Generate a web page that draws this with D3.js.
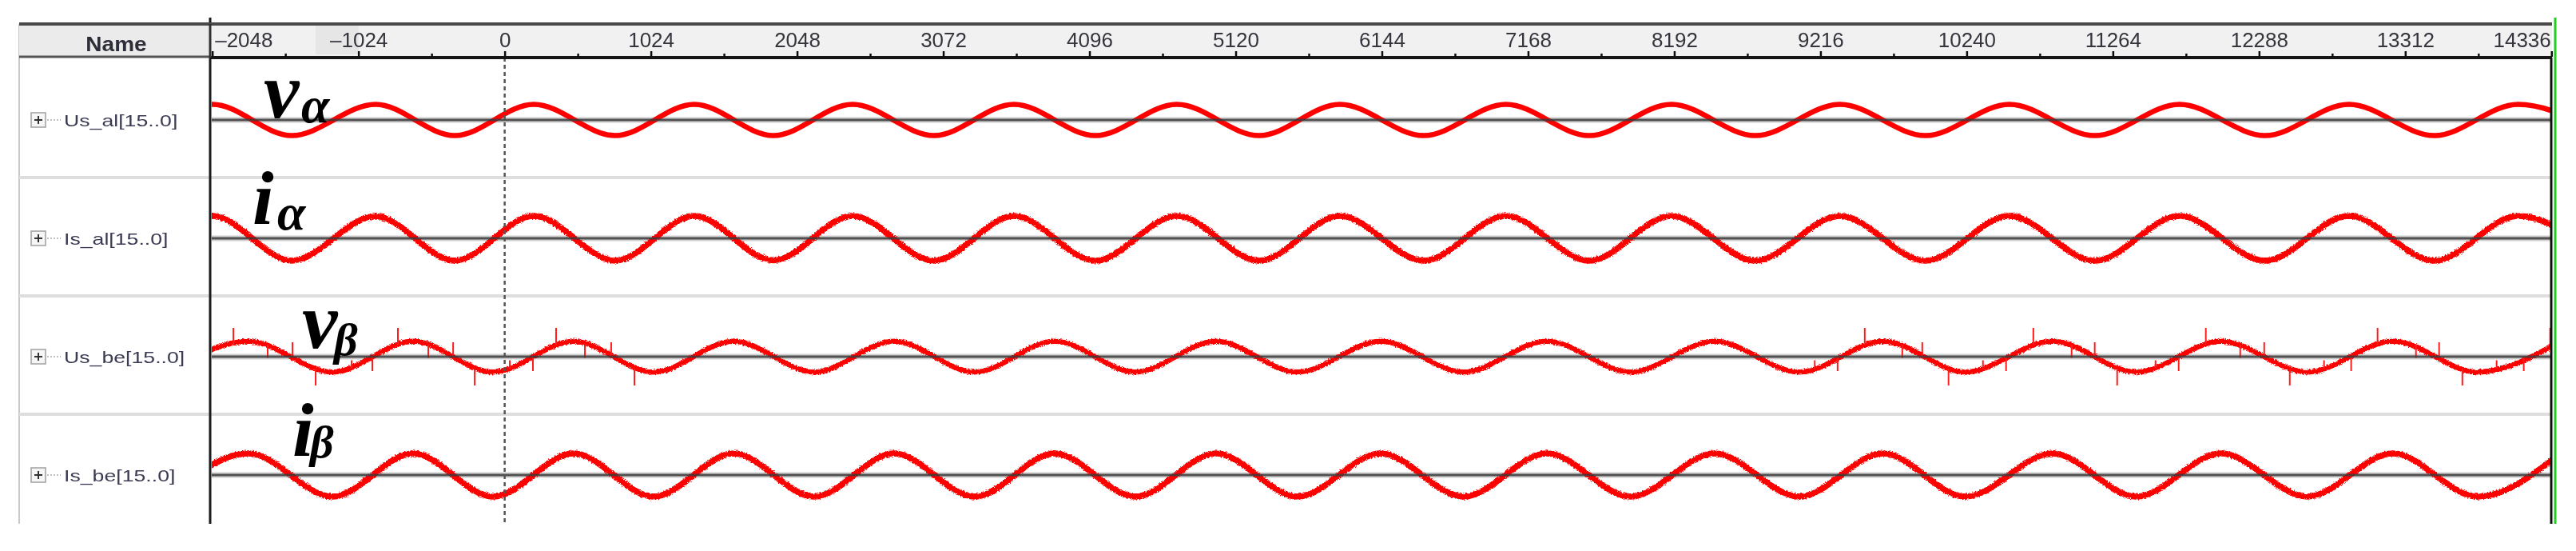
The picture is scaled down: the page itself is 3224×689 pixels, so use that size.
<!DOCTYPE html>
<html>
<head>
<meta charset="utf-8">
<script src="https://cdn.jsdelivr.net/npm/d3@7/dist/d3.min.js"></script>
<style>
html, body { margin: 0; padding: 0; background: #fff; }
svg { display: block; }
</style>
</head>
<body>
<div id="chart"></div>
<script>
const width = 3224;
const height = 689;

// signals listed in the Name column
const rowNames = ["Us_al[15..0]", "Is_al[15..0]", "Us_be[15..0]", "Is_be[15..0]"];
const rowSymbols = [["v", "α"], ["i", "α"], ["v", "β"], ["i", "β"]];

// time ruler
const majorTicks = [-2048, -1024, 0, 1024, 2048, 3072, 4096, 5120, 6144, 7168, 8192,
    9216, 10240, 11264, 12288, 13312, 14336];
const minorTicks = [-1536, -512, 512, 1536, 2560, 3584, 4608, 5632, 6656, 7680, 8704,
    9728, 10752, 11776, 12800, 13824];

// extrema of the alpha signals (time), trough first
const alphaTimes = [-2622, -2046, -1492, -904, -350, 204, 774, 1328, 1882, 2436, 3007,
    3567, 4137, 4708, 5284, 5850, 6437, 7013, 7596, 8172, 8759, 9352, 9951, 10539,
    11137, 11731, 12330, 12917, 13516, 14103, 14696];
const usAlpha = [-0.65, 0.65, -0.65, 0.65, -0.65, 0.65, -0.65, 0.65, -0.65, 0.65, -0.65,
    0.65, -0.65, 0.65, -0.65, 0.65, -0.65, 0.65, -0.65, 0.65, -0.65, 0.65, -0.65, 0.65,
    -0.65, 0.65, -0.65, 0.65, -0.65, 0.65, -0.65];
const isAlpha = [-0.93, 0.93, -0.93, 0.92, -0.93, 0.93, -0.93, 0.93, -0.92, 0.93, -0.93,
    0.93, -0.93, 0.93, -0.93, 0.93, -0.93, 0.93, -0.93, 0.93, -0.93, 0.93, -0.93, 0.93,
    -0.93, 0.93, -0.93, 0.93, -0.93, 0.93, -0.93];

// extrema of the beta signals, trough first
const betaTimes = [-2359, -1794, -1206, -641, -82, 483, 1043, 1603, 2168, 2727, 3292,
    3852, 4417, 4982, 5553, 6135, 6717, 7299, 7886, 8474, 9067, 9655, 10231, 10841,
    11428, 12022, 12626, 13225, 13818, 14400];
const usBeta = [-0.64, 0.64, -0.64, 0.64, -0.64, 0.64, -0.64, 0.64, -0.64, 0.64, -0.64,
    0.64, -0.64, 0.64, -0.64, 0.64, -0.64, 0.64, -0.64, 0.64, -0.64, 0.64, -0.64, 0.64,
    -0.64, 0.64, -0.64, 0.64, -0.64, 0.64];
const isBeta = [-0.9, 0.9, -0.9, 0.9, -0.9, 0.9, -0.9, 0.9, -0.9, 0.9, -0.9,
    0.9, -0.9, 0.9, -0.9, 0.9, -0.9, 0.9, -0.9, 0.9, -0.9, 0.9, -0.9, 0.9,
    -0.9, 0.9, -0.9, 0.9, -0.9, 0.9];

// glitches on Us_be: time, low end, high end
const spikeTimes = [-1900, -1660, -1486, -1324, -1072, -927, -748, -535, -361, -210, 36, 198,
    360, 562, 746, 909,
    9176, 9336, 9526, 9789, 9929, 10113, 10354, 10516, 10707, 10975, 11137, 11294, 11563,
    11725, 11915, 12156, 12324, 12503, 12743, 12933, 13118, 13387, 13549, 13712, 13952,
    14142, 14327];
const spikeLow = [0.5, -0.05, -0.05, -1.2, -0.5, -0.6, 0.5, -0.05, -0.05, -1.2, -0.5, -0.6,
    0.5, -0.05, -0.05, -1.2,
    -0.5, -0.6, 0.5, -0.05, -0.05, -1.2, -0.5, -0.6, 0.5, -0.05, -0.05, -1.2, -0.5,
    -0.6, 0.5, -0.05, -0.05, -1.2, -0.5, -0.6, 0.5, -0.05, -0.05, -1.2, -0.5,
    -0.6, 0.5];
const spikeHigh = [1.2, 0.5, 0.6, -0.5, -0.15, 0.0, 1.2, 0.5, 0.6, -0.5, -0.15, 0.0,
    1.2, 0.5, 0.6, -0.5,
    -0.15, 0.0, 1.2, 0.5, 0.6, -0.5, -0.15, 0.0, 1.2, 0.5, 0.6, -0.5, -0.15,
    0.0, 1.2, 0.5, 0.6, -0.5, -0.15, 0.0, 1.2, 0.5, 0.6, -0.5, -0.15,
    0.0, 1.2];

const seriesTimes = [alphaTimes, alphaTimes, betaTimes, betaTimes];
const seriesValues = [usAlpha, isAlpha, usBeta, isBeta];

// layout of the waveform window
const L = {
    nameLeft: 24, plotLeft: 263, plotRight: 3194,
    headerTop: 30, headerBottom: 72,
    rowTop: 78, rowH: 148, plotBottom: 655, halfAmp: 30
};
// where the big math symbols sit (main letter, subscript)
const symbolPos = [
    { x: 330, y: 147, sx: 377, sy: 153 },
    { x: 316, y: 280, sx: 347, sy: 287 },
    { x: 378, y: 435, sx: 418, sy: 444 },
    { x: 366, y: 570, sx: 388, sy: 572 }
];

const x = d3.scaleLinear().domain([-2063, 14340]).range([L.plotLeft, L.plotRight]);

const svg = d3.select("#chart").append("svg")
    .attr("width", width)
    .attr("height", height);

const defs = svg.append("defs");
defs.append("clipPath").attr("id", "plotClip")
    .append("rect")
    .attr("x", L.plotLeft + 2).attr("y", L.headerBottom + 2)
    .attr("width", L.plotRight - L.plotLeft - 3)
    .attr("height", L.plotBottom - L.headerBottom - 2);

// slightly ragged edge for the noisy signals
const fuzz = defs.append("filter").attr("id", "fuzz")
    .attr("filterUnits", "userSpaceOnUse")
    .attr("x", 0).attr("y", 0).attr("width", width).attr("height", height);
fuzz.append("feTurbulence")
    .attr("type", "fractalNoise").attr("baseFrequency", "0.5 0.8")
    .attr("numOctaves", 1).attr("seed", 4).attr("result", "noise");
fuzz.append("feDisplacementMap")
    .attr("in", "SourceGraphic").attr("in2", "noise")
    .attr("scale", 5).attr("xChannelSelector", "R").attr("yChannelSelector", "G");

const soft = defs.append("filter").attr("id", "soft");
soft.append("feGaussianBlur").attr("stdDeviation", 0.6);

const g = svg.append("g").attr("filter", "url(#soft)");

// name column border and row separators
g.append("line")
    .attr("x1", L.nameLeft).attr("x2", L.nameLeft)
    .attr("y1", L.headerTop).attr("y2", L.plotBottom)
    .attr("stroke", "#c8c8c8").attr("stroke-width", 2);

for (let i = 1; i < rowNames.length; i++) {
    const yy = L.rowTop + L.rowH * i - 4;
    g.append("line")
        .attr("x1", L.nameLeft).attr("x2", L.plotRight)
        .attr("y1", yy).attr("y2", yy)
        .attr("stroke", "#dedede").attr("stroke-width", 4);
}

const line = d3.line()
    .x(d => x(d[0]))
    .curve(d3.curveMonotoneX);

const plot = g.append("g").attr("clip-path", "url(#plotClip)");

rowNames.forEach((name, i) => {
    const base = L.rowTop + L.rowH * i + L.rowH / 2 - 2;
    const y = d3.scaleLinear().domain([-1, 1]).range([base + L.halfAmp, base - L.halfAmp]);
    const pts = seriesTimes[i].map((t, k) => [t, seriesValues[i][k]]);

    // light halo of the zero line
    plot.append("line")
        .attr("x1", L.plotLeft).attr("x2", L.plotRight)
        .attr("y1", base).attr("y2", base)
        .attr("stroke", "#cfcfcf").attr("stroke-width", 7);

    const noisy = i !== 0;
    plot.append("path")
        .datum(pts)
        .attr("fill", "none")
        .attr("stroke", "#ff0000")
        .attr("stroke-width", i % 2 === 1 ? 7.5 : 6.5)
        .attr("stroke-linejoin", "round")
        .attr("filter", noisy ? "url(#fuzz)" : null)
        .attr("d", line.y(d => y(d[1])));

    if (i === 2) {
        plot.selectAll(".spike")
            .data(spikeTimes.map((t, k) => [t, spikeLow[k], spikeHigh[k]]))
            .enter().append("line")
            .attr("class", "spike")
            .attr("x1", d => x(d[0])).attr("x2", d => x(d[0]))
            .attr("y1", d => y(d[1])).attr("y2", d => y(d[2]))
            .attr("stroke", "#ff1a1a").attr("stroke-width", 2);
    }

    // zero line drawn over the trace
    plot.append("line")
        .attr("x1", L.plotLeft).attr("x2", L.plotRight)
        .attr("y1", base).attr("y2", base)
        .attr("stroke", "#3c3c3c").attr("stroke-width", 2.8).attr("opacity", 0.85);

    // name cell: expand box, dotted stub, signal name
    const cell = g.append("g");
    cell.append("rect")
        .attr("x", 39).attr("y", base - 9).attr("width", 18).attr("height", 18)
        .attr("fill", "#f6f6f6").attr("stroke", "#a0a0a0").attr("stroke-width", 1.5);
    cell.append("line")
        .attr("x1", 43).attr("x2", 53).attr("y1", base).attr("y2", base)
        .attr("stroke", "#333").attr("stroke-width", 2);
    cell.append("line")
        .attr("x1", 48).attr("x2", 48).attr("y1", base - 5).attr("y2", base + 5)
        .attr("stroke", "#333").attr("stroke-width", 2);
    cell.append("line")
        .attr("x1", 59).attr("x2", 76).attr("y1", base).attr("y2", base)
        .attr("stroke", "#aaa").attr("stroke-width", 1.5).attr("stroke-dasharray", "2,2");
    const label = cell.append("text")
        .attr("x", 80).attr("y", base + 8)
        .attr("font-family", "'Liberation Sans', Arial, sans-serif")
        .attr("font-size", 21)
        .attr("fill", "#3a3a52")
        .text(name);
    const natural = label.node().getComputedTextLength();
    label.attr("textLength", natural * 1.27).attr("lengthAdjust", "spacingAndGlyphs");
});

// cursor at time 0
g.append("line")
    .attr("x1", x(0)).attr("x2", x(0))
    .attr("y1", L.headerBottom).attr("y2", L.plotBottom)
    .attr("stroke", "#555").attr("stroke-width", 2.5)
    .attr("stroke-dasharray", "5,4");

// plot borders
g.append("line")
    .attr("x1", L.plotLeft).attr("x2", L.plotLeft)
    .attr("y1", L.headerTop - 8).attr("y2", L.plotBottom)
    .attr("stroke", "#1a1a1a").attr("stroke-width", 3);
g.append("line")
    .attr("x1", L.plotRight - 1).attr("x2", L.plotRight - 1)
    .attr("y1", L.headerBottom).attr("y2", L.plotBottom)
    .attr("stroke", "#111").attr("stroke-width", 3);
g.append("line")
    .attr("x1", L.plotRight + 4).attr("x2", L.plotRight + 4)
    .attr("y1", L.headerTop - 8).attr("y2", L.plotBottom)
    .attr("stroke", "#22cc22").attr("stroke-width", 3);

// header band
g.append("rect")
    .attr("x", L.nameLeft).attr("y", L.headerTop)
    .attr("width", L.plotLeft - L.nameLeft).attr("height", L.headerBottom - L.headerTop)
    .attr("fill", "#ebebeb");
g.append("rect")
    .attr("x", L.plotLeft).attr("y", L.headerTop)
    .attr("width", L.plotRight - L.plotLeft).attr("height", L.headerBottom - L.headerTop)
    .attr("fill", "#f1f1f1");
g.append("rect")
    .attr("x", x(-1324)).attr("y", L.headerTop + 2)
    .attr("width", x(-1024) - x(-1324)).attr("height", L.headerBottom - L.headerTop - 6)
    .attr("fill", "#e6e6e6");
g.append("line")
    .attr("x1", L.nameLeft).attr("x2", L.plotRight)
    .attr("y1", L.headerTop).attr("y2", L.headerTop)
    .attr("stroke", "#4a4a4a").attr("stroke-width", 4);
g.append("line")
    .attr("x1", L.nameLeft).attr("x2", L.plotLeft)
    .attr("y1", L.headerBottom - 1).attr("y2", L.headerBottom - 1)
    .attr("stroke", "#555").attr("stroke-width", 3);
g.append("line")
    .attr("x1", L.plotLeft).attr("x2", L.plotRight)
    .attr("y1", L.headerBottom).attr("y2", L.headerBottom)
    .attr("stroke", "#151515").attr("stroke-width", 4);
g.append("line")
    .attr("x1", L.plotLeft).attr("x2", L.plotLeft)
    .attr("y1", L.headerTop).attr("y2", L.headerBottom)
    .attr("stroke", "#333").attr("stroke-width", 3);

const nameText = g.append("text")
    .attr("x", (L.nameLeft + L.plotLeft) / 2 + 2).attr("y", 64)
    .attr("text-anchor", "middle")
    .attr("font-family", "'Liberation Sans', Arial, sans-serif")
    .attr("font-weight", "bold").attr("font-size", 25)
    .attr("fill", "#2e2e3a")
    .text("Name");
nameText.attr("textLength", nameText.node().getComputedTextLength() * 1.12)
    .attr("lengthAdjust", "spacingAndGlyphs");

// ruler ticks
const minorAxis = g.append("g")
    .attr("transform", `translate(0,${L.headerBottom - 1})`)
    .call(d3.axisTop(x).tickValues(minorTicks).tickSize(4).tickFormat(""));
const majorAxis = g.append("g")
    .attr("transform", `translate(0,${L.headerBottom - 1})`)
    .call(d3.axisTop(x).tickValues(majorTicks).tickSize(7).tickPadding(5)
        .tickFormat(d => d < 0 ? "–" + Math.abs(d) : String(d)));
[minorAxis, majorAxis].forEach(a => {
    a.select(".domain").remove();
    a.selectAll(".tick line").attr("stroke", "#111").attr("stroke-width", 2.5);
});
majorAxis.selectAll(".tick text")
    .attr("font-family", "'Liberation Sans', Arial, sans-serif")
    .attr("font-size", 26)
    .attr("fill", "#34343c");
majorAxis.selectAll(".tick text")
    .filter(d => d === majorTicks[0])
    .attr("text-anchor", "start").attr("x", 3);
majorAxis.selectAll(".tick text")
    .filter(d => d === majorTicks[majorTicks.length - 1])
    .attr("text-anchor", "end").attr("x", -1);

// math symbols over the traces: one text per symbol, subscript as a tspan
rowSymbols.forEach((s, i) => {
    const p = symbolPos[i];
    const sym = g.append("text")
        .attr("font-family", "'Liberation Serif', 'Times New Roman', serif")
        .attr("font-style", "italic").attr("font-weight", "bold")
        .attr("fill", "#000");
    sym.append("tspan")
        .attr("x", p.x).attr("y", p.y)
        .attr("font-size", s[0] === "v" ? 100 : 96)
        .text(s[0]);
    sym.append("tspan")
        .attr("x", p.sx).attr("y", p.sy)
        .attr("font-size", s[1] === "α" ? 64 : 58)
        .text(s[1]);
});
</script>
</body>
</html>
